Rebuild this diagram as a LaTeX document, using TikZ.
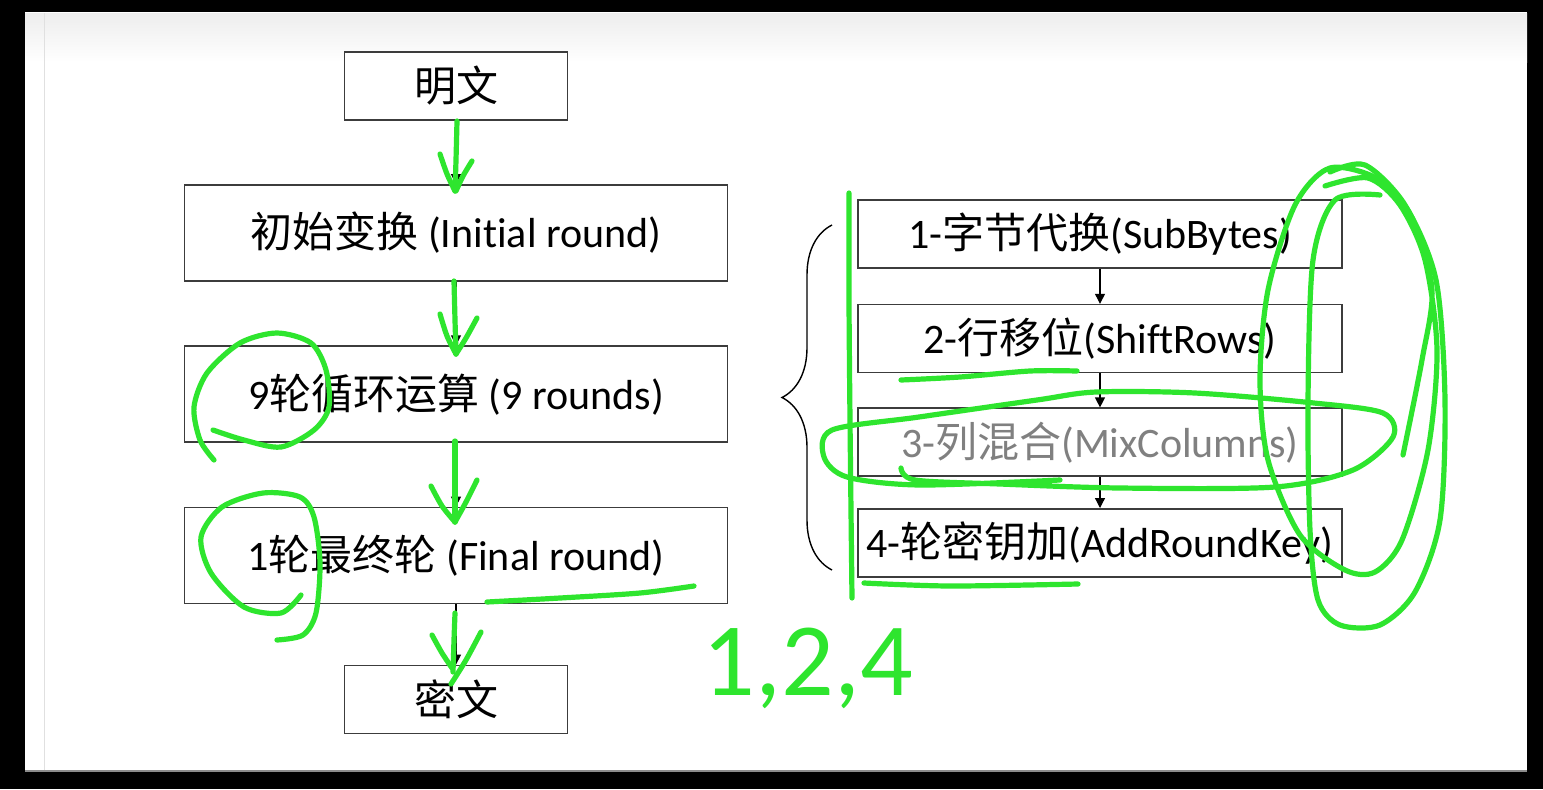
\documentclass[tikz,border=0pt]{standalone}
\usepackage{fontspec}
\setmainfont{Carlito}[Ligatures=NoCommon]
\newfontfamily\cjk{Noto Sans CJK SC}
\usetikzlibrary{positioning,arrows.meta,decorations.pathreplacing}
\definecolor{boxLine}{HTML}{3C3C3C}
\definecolor{penGreen}{HTML}{2EE52E}
\definecolor{fadeText}{HTML}{808080}
\def\bw{271.5pt}
\def\bh{48pt}
\def\sw{111.5pt}
\def\sh{34pt}
\def\rw{242pt}
\def\rh{34pt}
\newcommand{\zh}[1]{{\cjk #1}}

\begin{document}
\begin{tikzpicture}[x=0.5pt,y=-0.5pt,
  stage/.style={draw=boxLine, line width=0.8pt, fill=white, inner sep=0pt,
                font=\fontsize{21pt}{25pt}\selectfont},
  bigbox/.style={stage, minimum width=\bw, minimum height=\bh},
  endbox/.style={stage, minimum width=\sw, minimum height=\sh},
  subbox/.style={stage, minimum width=\rw, minimum height=\rh},
  flow/.style={-{Triangle[length=5pt,width=5pt]}, line width=0.6pt},
  pen/.style={draw=penGreen, line width=2.6pt, line cap=round, line join=round},
]

% ---------- screen frame ----------
\fill[black] (0,0) rectangle (1543,789);
\fill[white] (25,12) rectangle (1527,772);
\shade[top color=black!7, bottom color=white] (25,13) rectangle (1527,62);
\draw[black!12, line width=0.5pt] (44,13) -- (44,771);
\draw[black!45, line width=0.6pt] (25,771) -- (1527,771);

% =====================================================================
% LEFT COLUMN : overall flow
% =====================================================================
\node[endbox] (plain) at (456,86) {\zh{明文}};
\node[bigbox, below=31.7pt of plain] (initR) {\zh{初始变换} (Initial round)};
\node[bigbox, below=31.8pt of initR] (loopR) {9\zh{轮循环运算} (9 rounds)};
\node[bigbox, below=31.8pt of loopR] (finalR) {1\zh{轮最终轮} (Final round)};
\node[endbox, below=30.2pt of finalR] (cipher) {\zh{密文}};

\draw[flow] (plain) -- (initR);
\draw[flow] (initR) -- (loopR);
\draw[flow] (loopR) -- (finalR);
\draw[flow] (finalR) -- (cipher);

% =====================================================================
% RIGHT COLUMN : one round
% =====================================================================
\node[subbox] (sub) at (1100,234) {1-\zh{字节代换}(SubBytes)};
\node[subbox, below=17.5pt of sub] (shift) {2-\zh{行移位}(ShiftRows)};
\node[subbox, below=17pt of shift, text=fadeText] (mix) {3-\zh{列混合}(MixColumns)};
\node[subbox, below=15.5pt of mix] (addkey) {4-\zh{轮密钥加}(AddRoundKey)};

\draw[flow] (sub) -- (shift);
\draw[flow] (shift) -- (mix);
\draw[flow] (mix) -- (addkey);

% brace
\draw[decorate, decoration={brace, amplitude=25pt}, line width=0.7pt]
  (832,570) -- (832,225);

% =====================================================================
% GREEN PEN NOTES
% =====================================================================
% arrows over the flow
\draw[pen] plot[smooth] coordinates {(457,121) (456,160) (455,191)};
\draw[pen] plot[smooth] coordinates {(440,154) (447,174) (455,191)};
\draw[pen] plot[smooth] coordinates {(472,161) (463,176) (456,191)};
\draw[pen] plot[smooth] coordinates {(454,281) (455,320) (456,354)};
\draw[pen] plot[smooth] coordinates {(440,314) (447,336) (456,354)};
\draw[pen] plot[smooth] coordinates {(477,318) (466,338) (456,354)};
\draw[pen] plot[smooth] coordinates {(455,441) (455,480) (455,522)};
\draw[pen] plot[smooth] coordinates {(431,486) (442,506) (455,522)};
\draw[pen] plot[smooth] coordinates {(477,480) (466,502) (455,522)};
\draw[pen] plot[smooth] coordinates {(455,613) (454,640) (453,672)};
\draw[pen] plot[smooth] coordinates {(432,635) (442,653) (452,668)};
\draw[pen] plot[smooth] coordinates {(481,632) (466,660) (451,684)};

% circles round the round counts
\draw[pen] plot[smooth] coordinates {(213,430) (244,440) (281,447) (314,430) (329,407)
  (326,370) (311,343) (277,333) (240,343) (207,373) (194,407) (200,440) (214,460)};
\draw[pen] plot[smooth] coordinates {(301,595) (281,613) (244,607) (211,573) (201,537)
  (222,507) (263,493) (300,497) (314,517) (320,563) (316,613) (303,635) (277,640)};
\draw[pen] plot[smooth] coordinates {(694,586) (640,593) (560,598) (487,602)};

% marks in the round column
\draw[pen] plot[smooth] coordinates {(849,193) (849,300) (850,420) (852,598)};
\draw[pen] plot[smooth] coordinates {(901,380) (960,377) (1030,371) (1077,371)};
\draw[pen] plot[smooth] coordinates {(864,583) (950,586) (1078,584)};
\draw[pen] plot[smooth] coordinates {(901,468) (915,480) (1000,484) (1120,488) (1275,487)
  (1353,470) (1393,437) (1383,413) (1314,403) (1195,393) (1096,392) (1037,400)
  (919,417) (832,430) (824,457) (847,477) (920,485) (1060,480)};
\draw[pen] plot[smooth] coordinates {(1403,455) (1422,360) (1432,290) (1413,220)
  (1380,180) (1330,168) (1295,205) (1268,290) (1260,380) (1268,460) (1300,535)
  (1345,570) (1375,572) (1402,540) (1428,450) (1437,350) (1425,260) (1400,205)
  (1368,178) (1325,186)};
\draw[pen] plot[smooth] coordinates {(1380,195) (1335,200) (1313,260) (1308,400)
  (1310,530) (1318,600) (1340,625) (1380,625) (1415,592) (1440,520) (1445,400)
  (1436,280) (1405,205) (1365,165) (1330,172)};

\node[text=penGreen, font=\fontsize{52pt}{56pt}\selectfont] (marks) at (808,668) {1,2,4};

\end{tikzpicture}
\end{document}
